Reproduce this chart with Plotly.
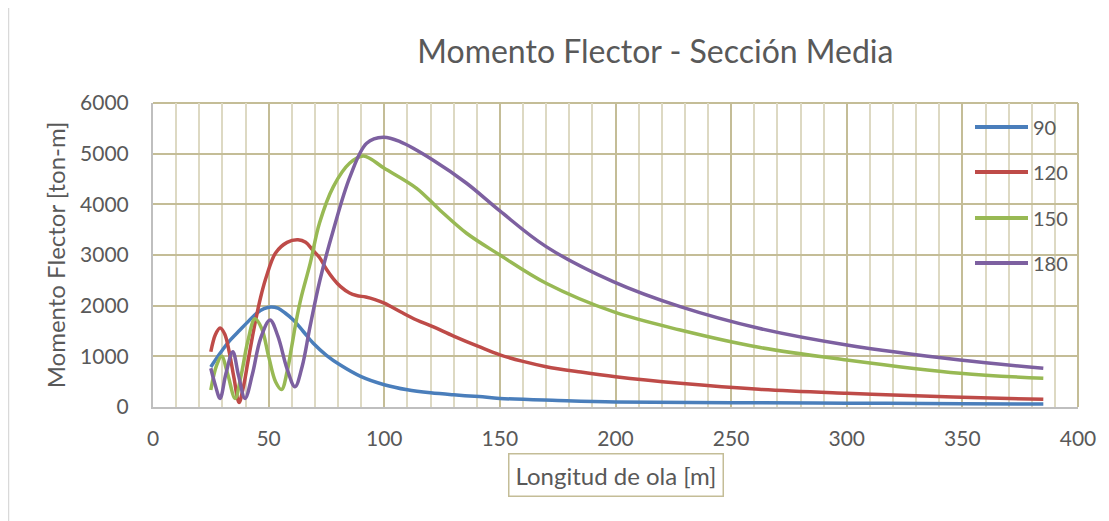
import plotly.graph_objects as go

# ---- data ----
series_names = ["90", "120", "150", "180"]

x90 = [25, 29, 33, 37.6, 41, 44.8, 48, 51, 54, 57, 60.7, 65, 69.3, 75, 81, 90, 100, 110, 120, 130, 141, 150, 175, 200, 250, 300, 350, 385]
y90 = [790, 1060, 1300, 1520, 1680, 1850, 1940, 1975, 1950, 1860, 1717, 1490, 1257, 1020, 829, 600, 440, 340, 280, 240, 205, 170, 130, 100, 85, 75, 65, 58]

x120 = [25, 27, 29, 31, 33, 35, 37.2, 39, 41, 43, 45, 47, 49, 53, 58, 62.7, 66, 69, 72, 75, 78, 81, 85, 88, 92, 96, 100, 107, 114, 121, 130, 141, 150, 160, 170, 185, 200, 228, 262, 300, 320, 350, 385]
y120 = [1090, 1430, 1560, 1440, 1080, 580, 90, 380, 880, 1390, 1850, 2250, 2570, 3040, 3250, 3300, 3250, 3100, 2950, 2720, 2530, 2380, 2250, 2200, 2170, 2120, 2050, 1880, 1717, 1585, 1400, 1190, 1030, 900, 796, 690, 598, 468, 349, 270, 237, 190, 152]

x150 = [25, 27.5, 29.7, 32.3, 35.5, 38, 41, 44.1, 47, 50, 53, 55.6, 58, 60, 62, 64, 68, 72, 78, 85, 91, 100, 114, 124, 135.6, 150, 170, 199, 228, 262, 300, 349, 385]
y150 = [335, 820, 1000, 650, 170, 600, 1300, 1740, 1550, 1000, 500, 345, 700, 1200, 1717, 2150, 2840, 3630, 4350, 4810, 4955, 4712, 4317, 3889, 3429, 3000, 2442, 1881, 1520, 1178, 928, 665, 566]

x180 = [25, 27, 29, 31.5, 34.5, 37, 39.8, 43, 46.5, 50.6, 54, 58, 61.4, 64.5, 67.9, 72.2, 78, 85.2, 92.4, 99.6, 106.8, 121, 135.6, 150, 170, 199, 228, 262, 300, 349, 385]
y180 = [764, 420, 170, 650, 1092, 620, 170, 650, 1350, 1717, 1400, 750, 400, 800, 1585, 2507, 3494, 4546, 5205, 5324, 5237, 4876, 4416, 3870, 3165, 2474, 1980, 1553, 1224, 928, 764]

x_ticks = [0, 50, 100, 150, 200, 250, 300, 350, 400]
y_ticks = [0, 1000, 2000, 3000, 4000, 5000, 6000]

colors = ["#4a7ebb", "#be4b48", "#98b954", "#7d60a0"]
xs = [x90, x120, x150, x180]
ys = [y90, y120, y150, y180]

FONT = "Lato"
TXT = "#595959"

# plot area in figure pixels (for placing legend/box)
L, T, W, H = 145, 95, 925, 304


def px_x(p):
    return (p - 8 - L) / W


def px_y(p):
    return 1 - (p - 8 - T) / H


fig = go.Figure()
for name, x, y, c in zip(series_names, xs, ys, colors):
    fig.add_trace(go.Scatter(
        x=x, y=y, name=name, mode="lines",
        line=dict(color=c, width=3.5, shape="spline", smoothing=1.0),
        showlegend=False,
    ))

fig.update_layout(
    width=1101, height=513,
    margin=dict(l=L, r=1101 - L - W, t=T, b=513 - T - H),
    paper_bgcolor="white", plot_bgcolor="white",
    font=dict(family=FONT, color=TXT, size=20),
    title=dict(text="Momento Flector - Sección Media", x=0.588, xanchor="center",
               y=0.914, yanchor="middle", font=dict(family=FONT, size=32, color=TXT)),
    xaxis=dict(range=[0, 400], tickvals=x_ticks, showgrid=True, gridcolor="#c4bd97", gridwidth=2,
               minor=dict(dtick=10, showgrid=True, gridcolor="#ddd9c3", gridwidth=2),
               showline=True, linecolor="#bfbfbf", linewidth=2, zeroline=False,
               ticks="", ticklabelstandoff=12, tickfont=dict(size=21, color=TXT)),
    yaxis=dict(range=[0, 6000], tickvals=y_ticks, showgrid=True, gridcolor="#c4bd97", gridwidth=2,
               showline=True, linecolor="#bfbfbf", linewidth=2, zeroline=False,
               ticks="", ticklabelstandoff=18, tickfont=dict(size=21, color=TXT),
               title=dict(text="Momento Flector [ton-m]", font=dict(size=24, color=TXT), standoff=8)),
)

# plot-area border (top/right in tan)
fig.add_shape(type="line", xref="paper", yref="paper", x0=0, x1=1, y0=1, y1=1,
              line=dict(color="#c4bd97", width=2), layer="below")
fig.add_shape(type="line", xref="paper", yref="paper", x0=1, x1=1, y0=0, y1=1,
              line=dict(color="#c4bd97", width=2), layer="below")
# outer chart border at left
fig.add_shape(type="line", xref="paper", yref="paper", x0=px_x(8.5), x1=px_x(8.5), y0=-0.5, y1=1.4,
              line=dict(color="#d9d9d9", width=1.5))

# legend (drawn manually to match long line samples)
leg_y = [127, 172, 218, 263]
for name, c, yy in zip(series_names, colors, leg_y):
    fig.add_shape(type="line", xref="paper", yref="paper",
                  x0=px_x(975), x1=px_x(1028), y0=px_y(yy), y1=px_y(yy),
                  line=dict(color=c, width=4))
    fig.add_annotation(text=name, xref="paper", yref="paper", x=px_x(1031), y=px_y(yy),
                       xanchor="left", yanchor="middle", showarrow=False,
                       font=dict(size=20, color=TXT, family=FONT))

# x-axis title in a box
fig.add_annotation(text="Longitud de ola [m]", xref="paper", yref="paper",
                   x=px_x(616), y=px_y(475), xanchor="center", yanchor="middle",
                   showarrow=False, font=dict(size=24, color=TXT, family=FONT),
                   bordercolor="#c4bd97", borderwidth=1.5, borderpad=6, bgcolor="white")

fig.write_html("out.html")
